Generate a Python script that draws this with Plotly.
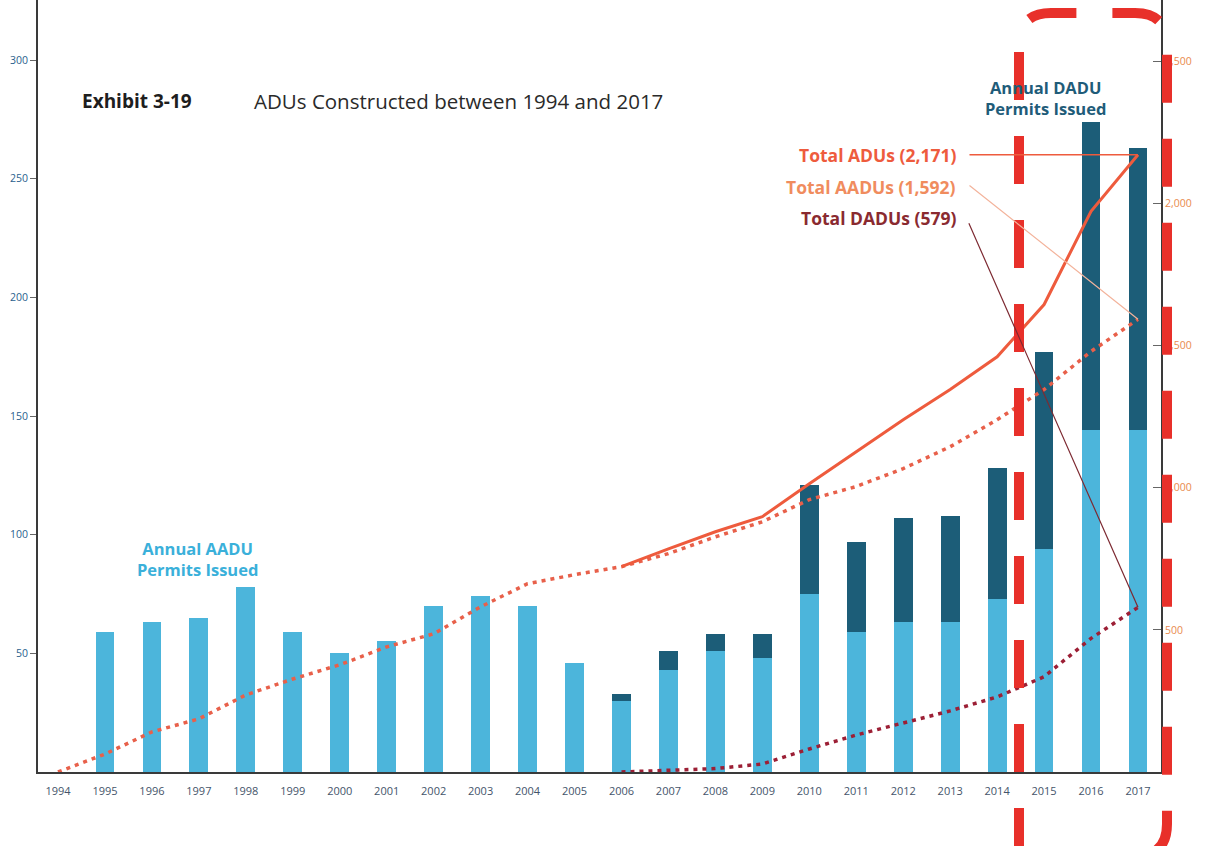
import plotly.graph_objects as go

# ---------------- data ----------------
years = list(range(1994, 2018))
year_labels = [str(y) for y in years]

aadu_permits = [None, 59, 63, 65, 78, 59, 50, 55, 70, 74, 70, 46,
                30, 43, 51, 48, 75, 59, 63, 63, 73, 94, 144, 144]
dadu_permits = [None, None, None, None, None, None, None, None, None, None, None, None,
                3, 8, 7, 10, 46, 38, 44, 45, 55, 83, 130, 119]

total_adus_cum = [None] * 12 + [722, 785, 845, 898, 1014, 1127, 1239, 1345, 1460, 1644, 1972, 2171]
aadu_cum = [0, 63, 141, 187, 271, 327, 377, 440, 486, 581, 662, 694,
            722, 768, 827, 880, 958, 1004, 1067, 1144, 1239, 1345, 1479, 1592]
dadu_cum = [None] * 12 + [0, 5, 12, 28, 81, 130, 173, 215, 264, 335, 470, 579]

left_ticks = [50, 100, 150, 200, 250, 300]
right_ticks = [500, 1000, 1500, 2000, 2500]
right_tick_labels = ["500", "1,000", "1,500", "2,000", "2,500"]

total_labels = ["Total ADUs (2,171)", "Total AADUs (1,592)", "Total DADUs (579)"]

# ---------------- geometry helpers (layout only) ----------------
W, H = 1205, 846
PL, PR, PT, PB = 38, 1161, 0, 772


def px(xp):
    return (xp - PL) / (PR - PL)


def py(yp):
    return (PB - yp) / (PB - PT)


LIGHT = "#4cb5db"
DARK = "#1c5d78"
RED = "#ee5b3d"
AADU_C = "#e8604a"
DADU_C = "#9c1f35"
FONT = "Open Sans"

fig = go.Figure()

fig.add_trace(go.Bar(x=years, y=aadu_permits, marker_color=LIGHT, width=0.4,
                     marker_line_width=0, name="AADU"))
fig.add_trace(go.Bar(x=years, y=dadu_permits, marker_color=DARK, width=0.4,
                     marker_line_width=0, name="DADU"))

fig.add_trace(go.Scatter(x=years, y=aadu_cum, yaxis="y2", mode="lines",
                         line=dict(color=AADU_C, width=3.5, dash="4px,5px"),
                         name="Total AADUs"))
fig.add_trace(go.Scatter(x=years, y=dadu_cum, yaxis="y2", mode="lines",
                         line=dict(color=DADU_C, width=3.5, dash="4px,5px"),
                         name="Total DADUs"))
fig.add_trace(go.Scatter(x=years, y=total_adus_cum, yaxis="y2", mode="lines",
                         line=dict(color=RED, width=3), name="Total ADUs"))

annotations = [
    dict(text="<b>Exhibit 3-19</b>", x=px(80), y=py(101), xref="paper", yref="paper",
         xanchor="left", yanchor="middle", showarrow=False,
         font=dict(family=FONT, size=19, color="#1e1e1e")),
    dict(text="ADUs Constructed between 1994 and 2017", x=px(252), y=py(101),
         xref="paper", yref="paper", xanchor="left", yanchor="middle", showarrow=False,
         font=dict(family=FONT, size=20.5, color="#2a2a2a")),
    dict(text="<b>Annual DADU<br>Permits Issued</b>", x=px(1045), y=py(98),
         xref="paper", yref="paper", xanchor="center", yanchor="middle", showarrow=False,
         font=dict(family=FONT, size=16.5, color="#1f5c79")),
    dict(text="<b>Annual AADU<br>Permits Issued</b>", x=px(197), y=py(559),
         xref="paper", yref="paper", xanchor="center", yanchor="middle", showarrow=False,
         font=dict(family=FONT, size=16.5, color="#3ab0da")),
]

label_colors = [RED, "#f08c5e", "#8a2a30"]
label_y = [155, 187, 218]
for txt, c, yy in zip(total_labels, label_colors, label_y):
    annotations.append(dict(text="<b>" + txt + "</b>", x=px(958), y=py(yy),
                            xref="paper", yref="paper", xanchor="right", yanchor="middle",
                            showarrow=False, font=dict(family=FONT, size=17.5, color=c)))

# leader lines from labels to end points of the cumulative lines
leaders = [
    (total_adus_cum[-1], 0, RED, 1.5),
    (aadu_cum[-1], -135, "#f3b39b", 1.2),
    (dadu_cum[-1], -386, "#7d2a32", 1.2),
]
for val, ay, c, w in leaders:
    annotations.append(dict(text=" ", x=years[-1], y=val, xref="x", yref="y2",
                            showarrow=True, arrowhead=0, arrowwidth=w, arrowcolor=c,
                            ax=-170, ay=ay, standoff=0, font=dict(size=1)))

# hand-drawn style red dashed highlight frame
L, R, T, B, r = 1019, 1167, 13, 856, 32
path = (f"M {px(L)},{py(B)} L {px(L)},{py(T + r)} "
        f"Q {px(L)},{py(T)} {px(L + r)},{py(T)} L {px(R - r)},{py(T)} "
        f"Q {px(R)},{py(T)} {px(R)},{py(T + r)} L {px(R)},{py(B - r)} "
        f"Q {px(R)},{py(B)} {px(R - r)},{py(B)} L {px(L)},{py(B)}")
shapes = [dict(type="path", path=path, xref="paper", yref="paper",
               line=dict(color="#e8302a", width=10, dash="48px,36px"), layer="above")]

fig.update_layout(
    width=W, height=H,
    margin=dict(l=PL, r=W - PR, t=PT, b=H - PB, pad=0),
    paper_bgcolor="white", plot_bgcolor="white",
    barmode="stack", showlegend=False,
    font=dict(family=FONT),
    xaxis=dict(range=[1993.574, 2017.49], tickvals=years, ticktext=year_labels,
               showline=True, linecolor="#3a3a3a", linewidth=2, ticks="",
               showgrid=False, zeroline=False, ticklabelstandoff=8,
               tickfont=dict(family=FONT, size=11, color="#44546a")),
    yaxis=dict(range=[0, 325.3], tickvals=left_ticks, showline=True,
               linecolor="#3a3a3a", linewidth=2, ticks="outside", ticklen=6,
               tickcolor="#666", showgrid=False, zeroline=False,
               tickfont=dict(family=FONT, size=10.5, color="#2b5f8e")),
    yaxis2=dict(range=[0, 2715], overlaying="y", side="right", tickvals=right_ticks,
                ticktext=right_tick_labels, showline=True, linecolor="#3a3a3a",
                linewidth=2, ticks="inside", ticklen=8, tickcolor="#666",
                showgrid=False, zeroline=False,
                tickfont=dict(family=FONT, size=10.5, color="#e98a4e")),
    annotations=annotations,
    shapes=shapes,
)

fig.write_html("out.html")
